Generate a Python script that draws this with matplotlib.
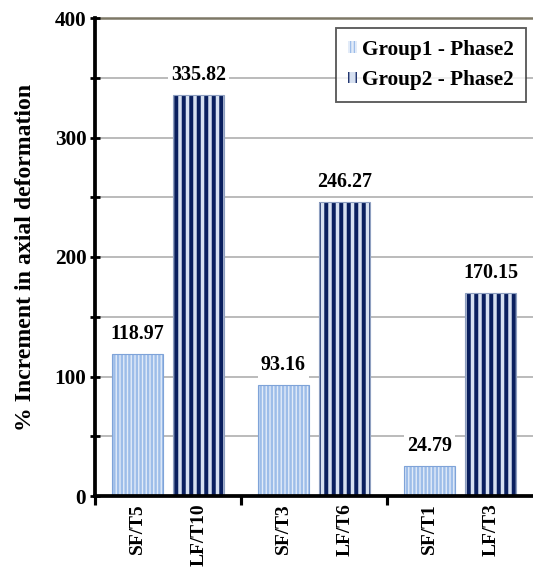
import matplotlib
matplotlib.use("Agg")
import matplotlib.pyplot as plt
import numpy as np

# Data
groups = ["A", "B", "C"]
group1_labels = ["SF/T5", "SF/T3", "SF/T1"]
group2_labels = ["LF/T10", "LF/T6", "LF/T3"]
group1_values = [118.97, 93.16, 24.79]
group2_values = [335.82, 246.27, 170.15]
series_names = ["Group1 - Phase2", "Group2 - Phase2"]
y_ticks = [0, 100, 200, 300, 400]
y_grid = [50, 100, 150, 200, 250, 300, 350]

plt.rcParams["font.family"] = ["Liberation Serif", "DejaVu Serif"]
plt.rcParams["font.weight"] = "bold"

DPI = 90
fig = plt.figure(figsize=(533 / DPI, 569 / DPI), dpi=DPI)
ax = fig.add_axes([95 / 533, 1 - 496 / 569, 438 / 533, 478 / 569])

x = np.arange(len(groups))
off = 0.21
w = 0.35


def hatched(xpos, vals, face, hcolor, hatch, hlw, outline, label):
    bars = ax.bar(xpos, vals, w, color=face, edgecolor=hcolor, hatch=hatch,
                  linewidth=0, zorder=3, label=label)
    for b in bars:
        b.set_hatch_linewidth(hlw)
    ax.bar(xpos, vals, w, facecolor="none", edgecolor=outline, linewidth=0.9, zorder=4)
    return bars


b1 = hatched(x - off, group1_values, "#e2ebf8", "#9dbde9", "||||", 1.9, "#7fa3d8", series_names[0])
b2 = hatched(x + off, group2_values, "#d6e0f0", "#0a1f5e", "||", 3.2, "#8e9fc0", series_names[1])

# value labels above each bar
for xs, vals in ((x - off, group1_values), (x + off, group2_values)):
    for xi, v in zip(xs, vals):
        ax.annotate(f"{v:.2f}", (xi, v), xytext=(0, 8), textcoords="offset points",
                    ha="center", va="bottom", fontsize=16, fontweight="bold",
                    bbox=dict(boxstyle="square,pad=0.15", fc="white", ec="none"), zorder=5)

ax.set_xlim(-0.5, 2.5)
ax.set_ylim(0, 400)
ax.set_yticks(y_ticks)
ax.set_yticklabels([str(t) for t in y_ticks], fontsize=17, fontweight="bold")
ax.set_yticks([50, 150, 250, 350], minor=True)

for yv in y_grid:
    ax.axhline(yv, color="#b3b3b3", lw=1.4, zorder=1)
ax.axhline(400, color="#7d7866", lw=2.0, zorder=1, clip_on=False)

# x ticks: bar labels (major) and group separators (minor)
ax.set_xticks(np.concatenate([x - off, x + off]))
ax.set_xticklabels(group1_labels + group2_labels, rotation=90, fontsize=15.5, fontweight="bold")
ax.set_xticks([-0.5, 0.5, 1.5], minor=True)
ax.tick_params(axis="x", which="major", length=0, pad=6)
ax.tick_params(axis="x", which="minor", length=7, width=2.5, direction="out")
ax.tick_params(axis="y", which="both", length=8, width=2.2, direction="inout", pad=3)

for s in ("top", "right"):
    ax.spines[s].set_visible(False)
for s in ("left", "bottom"):
    ax.spines[s].set_linewidth(3)
    ax.spines[s].set_zorder(6)

ax.set_ylabel("% Increment in axial deformation", fontsize=19, fontweight="bold", labelpad=15)

leg = ax.legend(loc="upper right", bbox_to_anchor=(0.984, 0.979),
                frameon=True, fancybox=False, borderaxespad=0, handlelength=0.45,
                handleheight=0.45, handletextpad=0.25, labelspacing=0.5,
                borderpad=0.55, prop=dict(weight="bold", size=17))
leg.get_frame().set_edgecolor("#333333")
leg.get_frame().set_linewidth(1.5)
leg.set_zorder(7)

fig.savefig("out.png", dpi=DPI)
